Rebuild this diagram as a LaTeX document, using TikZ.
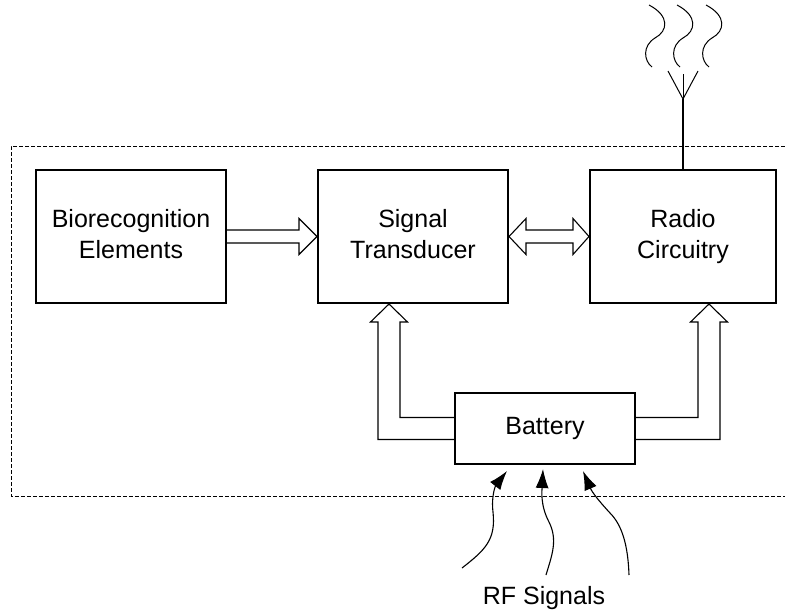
\documentclass[tikz,border=0pt]{standalone}
\usepackage{fontspec}
\setmainfont{Liberation Sans}
\usetikzlibrary{arrows.meta, positioning, calc}
\tikzset{
    >=Latex,
    font=\fontsize{25}{31}\selectfont,
    sensor_block/.style={
        rectangle,
        draw=black,
        line width=2pt,
        minimum width=190pt,
        minimum height=133pt,
        text width=184pt,
        align=center,
        inner sep=0pt,
        execute at begin node=\strut,
        execute at end node=\strut
    },
    sensor_battery/.style={
        sensor_block,
        minimum width=180pt,
        minimum height=71pt,
        text width=170pt
    },
    sensor_hollow/.style={
        draw=black,
        line width=1.1pt,
        line join=miter
    },
    sensor_rf/.style={
        -{Latex[length=19pt, width=13pt]},
        line width=1.1pt
    },
    sensor_frame/.style={
        draw=black,
        line width=1pt,
        dash pattern=on 4pt off 2pt
    }
}

\begin{document}
\begin{tikzpicture}[x=1pt, y=-1pt]
\useasboundingbox (0,0) rectangle (785,614);

% --- Sensor boundary ---
\draw[sensor_frame] (785,146) -| (11,496) -- (785,496);

% --- Blocks ---
\node[sensor_block] (Bio) at (131,236.5) {Biorecognition\\Elements};
\node[sensor_block, right=90pt of Bio] (Trans) {Signal\\Transducer};
\node[sensor_block, right=80pt of Trans, minimum width=186pt] (Radio) {Radio\\Circuitry};
\node[sensor_battery] (Battery) at (545,428.5) {Battery};

% --- Hollow arrows ---
\draw[sensor_hollow] ($(Bio.east)+(0,-6.5)$) -- ($(Trans.west)+(-18,-6.5)$)
    -- ($(Trans.west)+(-18,-18)$) -- (Trans.west) -- ($(Trans.west)+(-18,18)$)
    -- ($(Trans.west)+(-18,6.5)$) -- ($(Bio.east)+(0,6.5)$);
\draw[sensor_hollow] (Trans.east) -- ($(Trans.east)+(17,-18)$) -- ($(Trans.east)+(17,-6.5)$)
    -- ($(Radio.west)+(-16,-6.5)$) -- ($(Radio.west)+(-16,-18)$) -- (Radio.west)
    -- ($(Radio.west)+(-16,18)$) -- ($(Radio.west)+(-16,6.5)$)
    -- ($(Trans.east)+(17,6.5)$) -- ($(Trans.east)+(17,18)$) -- cycle;

\coordinate (TransIn) at ($(Trans.south west)+(72,0)$);
\coordinate (RadioIn) at ($(Radio.south west)+(120,0)$);
\draw[sensor_hollow] ($(Battery.west)+(0,11)$) -| ($(TransIn)+(-11,18)$)
    -- ($(TransIn)+(-18.5,18)$) -- (TransIn) -- ($(TransIn)+(18.5,18)$)
    -- ($(TransIn)+(11,18)$) |- ($(Battery.west)+(0,-11)$);
\draw[sensor_hollow] ($(Battery.east)+(0,11)$) -| ($(RadioIn)+(11,18)$)
    -- ($(RadioIn)+(18.5,18)$) -- (RadioIn) -- ($(RadioIn)+(-18.5,18)$)
    -- ($(RadioIn)+(-11,18)$) |- ($(Battery.east)+(0,-11)$);

% --- Antenna ---
\coordinate (Ant) at ($(Radio.north)+(0,-70)$);
\draw[line width=1.1pt] (Radio.north) -- (Ant);
\draw[line width=1pt] ($(Ant)+(-15,-28)$) -- (Ant) -- ($(Ant)+(15,-28)$);
\draw[line width=0.6pt] (Ant) -- ($(Ant)+(0,-25)$);
\foreach \dx in {-34,-6,23} {
    \draw[line width=1pt] ($(Ant)+(\dx,-94)$) .. controls ($(Ant)+(\dx+21,-83)$) and ($(Ant)+(\dx+19,-68)$)
        .. ($(Ant)+(\dx+6,-61)$) .. controls ($(Ant)+(\dx-7,-53)$) and ($(Ant)+(\dx-5,-38)$)
        .. ($(Ant)+(\dx+3,-32)$);
}

% --- RF signals ---
\node (RF) at (544,598) {RF Signals};
\coordinate (RF1) at (462,568);
\coordinate (RF2) at (546,575);
\coordinate (RF3) at (629,575);
\draw[sensor_rf] (RF1) .. controls (485,550) and (496,540) .. (493,512)
    .. controls (491,495) and (496,485) .. ($(Battery.south)+(-38,6)$);
\draw[sensor_rf] (RF2) .. controls (552,555) and (558,540) .. (549,522)
    .. controls (540,505) and (542,490) .. ($(Battery.south)+(-2,4)$);
\draw[sensor_rf] (RF3) .. controls (628,545) and (622,525) .. (610,513)
    .. controls (598,500) and (592,492) .. ($(Battery.south)+(38,6)$);

\end{tikzpicture}
\end{document}
